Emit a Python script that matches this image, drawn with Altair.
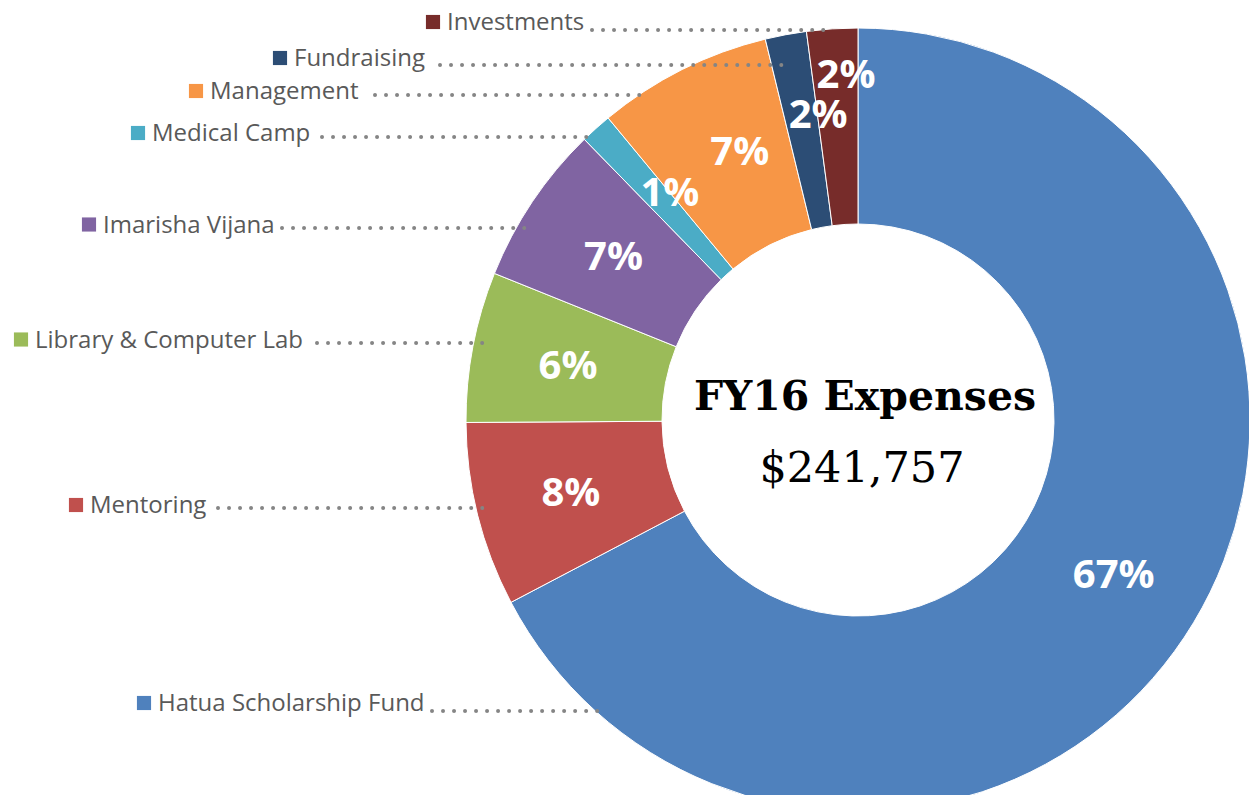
import altair as alt
import pandas as pd

# ---------------- data ----------------
categories = ["Hatua Scholarship Fund", "Mentoring", "Library & Computer Lab",
              "Imarisha Vijana", "Medical Camp", "Management", "Fundraising", "Investments"]
amounts = [162701, 18374, 14989, 15956, 3143, 17407, 4110, 5077]
title_text = "FY16 Expenses"
total_text = "$241,757"

# ---------------- styles ----------------
colors = ["#4F81BD", "#C0504D", "#9BBB59", "#8064A2",
          "#4BACC6", "#F79646", "#2C4D75", "#772C2A"]
TEXT_GREY = "#595959"
DOT_GREY = "#858585"

# ---------------- layout (reference pixel geometry) ----------------
CX, CY, R, R_IN = 858, 420, 392, 196        # donut centre / radii on the page
PAGE = 8
W, H = 1241, 787
legend_left = [136, 68, 13, 81, 130, 188, 272, 425]     # left edge of legend key
legend_mid = [703, 505, 339.5, 224.5, 133, 91, 58, 22]  # vertical centre of legend row
leader_row = [711, 508, 343, 228, 137, 95, 65, 30]      # vertical position of leader
leader_start = [432, 218, 317, 282, 322, 375, 440, 592] # where dotted leader begins
label_r = [0.762, 0.755, 0.753, 0.751, 0.754, 0.749, 0.787, 0.883]  # % label radius (of R)
label_turn = [0, 0, 0, 0, 2.4, 2.9, 3.2, 1.8]           # % label angular nudge (deg)
LEADER_INSET = 0.025                                     # leader runs a little into its slice


def ux(px):
    return (px - CX) / R


def uy(py):
    return (CY - py) / R


df = pd.DataFrame({
    "cat": categories,
    "amount": amounts,
    "order": list(range(len(categories))),
    "sq_x": [ux(v + 8) for v in legend_left],
    "txt_x": [ux(v + 22) for v in legend_left],
    "row_y": [uy(v) for v in legend_mid],
    "lead_y": [uy(v) for v in leader_row],
    "lead_x": [ux(v) for v in leader_start],
    "lr": label_r,
    "turn": label_turn,
})

xs = alt.Scale(domain=[ux(PAGE), ux(PAGE + W)], nice=False, zero=False)
ys = alt.Scale(domain=[uy(PAGE + H), uy(PAGE)], nice=False, zero=False)
cscale = alt.Scale(domain=categories, range=colors)

base = alt.Chart(df)

# cumulative angles of each slice (clockwise from 12 o'clock)
angles = base.transform_joinaggregate(
    total="sum(amount)"
).transform_window(
    cum="sum(amount)", sort=[alt.SortField("order", order="ascending")], frame=[None, 0]
).transform_calculate(
    a0="(datum.cum - datum.amount) / datum.total * 2 * PI"
).transform_calculate(
    mid="(datum.cum - datum.amount / 2) / datum.total * 2 * PI"
)

arcs = base.mark_arc(radius=R, radius2=R_IN, stroke="white", strokeWidth=1).encode(
    x=alt.XDatum(0, type="quantitative", scale=xs, axis=None),
    y=alt.YDatum(0, type="quantitative", scale=ys, axis=None),
    theta=alt.Theta("amount:Q", stack=True),
    order=alt.Order("order:Q"),
    color=alt.Color("cat:N", scale=cscale, legend=None),
)

leaders = angles.transform_calculate(
    edge="-sqrt(max(0, 1 - datum.lead_y * datum.lead_y))"
).transform_calculate(
    bound="(datum.lead_y > 0 && cos(datum.a0) > 0) ? datum.lead_y * tan(datum.a0) : -99"
).transform_calculate(
    lead_end="max(datum.edge, datum.bound) + " + str(LEADER_INSET)
).mark_rule(strokeDash=[0.01, 11], strokeCap="round", strokeWidth=4, color=DOT_GREY).encode(
    x=alt.X("lead_x:Q", scale=xs, axis=None),
    x2="lead_end:Q",
    y=alt.Y("lead_y:Q", scale=ys, axis=None),
)

pcts = angles.transform_calculate(
    pos="datum.mid + datum.turn * PI / 180"
).transform_calculate(
    lx="datum.lr * sin(datum.pos)"
).transform_calculate(
    ly="datum.lr * cos(datum.pos)"
).transform_calculate(
    pct="format(datum.amount / datum.total, '.0%')"
).mark_text(font="Open Sans", fontWeight="bold", fontSize=40, color="white", dy=2).encode(
    x=alt.X("lx:Q", scale=xs, axis=None),
    y=alt.Y("ly:Q", scale=ys, axis=None),
    text="pct:N",
)

keys = base.mark_square(size=200, opacity=1, filled=True).encode(
    x=alt.X("sq_x:Q", scale=xs, axis=None),
    y=alt.Y("row_y:Q", scale=ys, axis=None),
    color=alt.Color("cat:N", scale=cscale, legend=None),
)

names = base.mark_text(align="left", baseline="middle", font="Open Sans",
                       fontSize=24, color=TEXT_GREY, dy=1).encode(
    x=alt.X("txt_x:Q", scale=xs, axis=None),
    y=alt.Y("row_y:Q", scale=ys, axis=None),
    text="cat:N",
)

title = alt.Chart(pd.DataFrame({"t": [title_text]})).mark_text(
    font="DejaVu Serif", fontWeight="bold", fontSize=41, color="black",
    align="center", baseline="alphabetic").encode(
    x=alt.XDatum(ux(865), type="quantitative", scale=xs, axis=None),
    y=alt.YDatum(uy(410), type="quantitative", scale=ys, axis=None),
    text="t:N",
)

total = alt.Chart(pd.DataFrame({"t": [total_text]})).mark_text(
    font="DejaVu Serif", fontSize=43, color="black",
    align="center", baseline="alphabetic").encode(
    x=alt.XDatum(ux(862), type="quantitative", scale=xs, axis=None),
    y=alt.YDatum(uy(482), type="quantitative", scale=ys, axis=None),
    text="t:N",
)

chart = alt.layer(arcs, leaders, pcts, keys, names, title, total).properties(
    width=W, height=H, padding=0, background="white",
    autosize=alt.AutoSizeParams(type="none"),
).configure_view(strokeWidth=0)

chart.save("out.html", embed_options={"renderer": "svg", "actions": False})
